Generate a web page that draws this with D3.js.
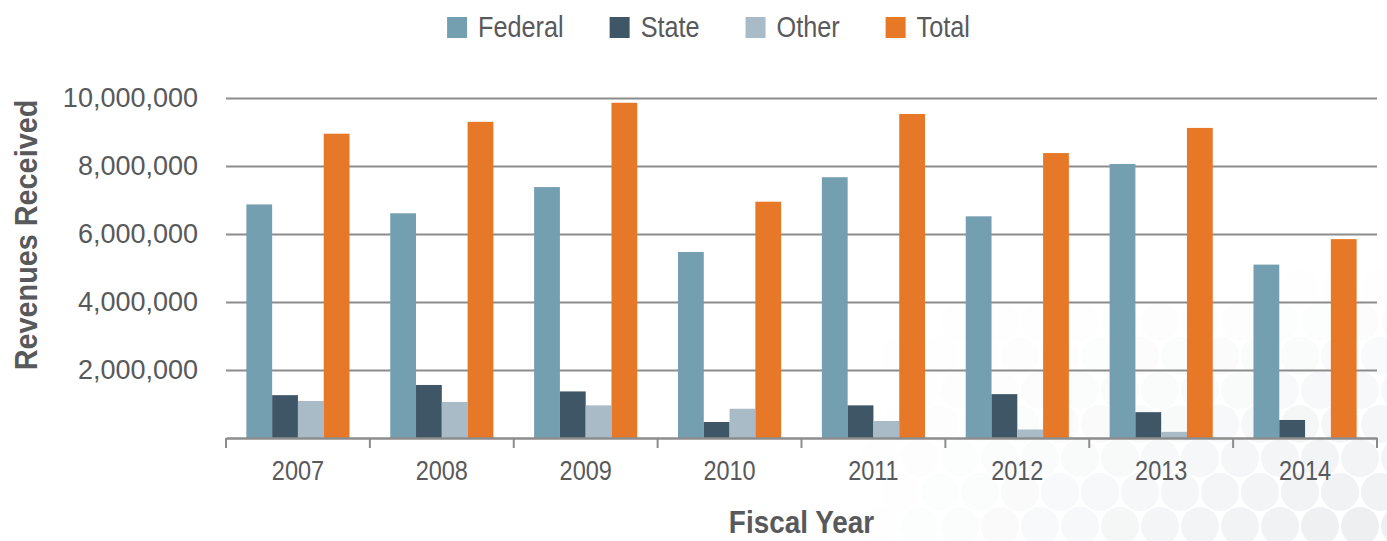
<!DOCTYPE html>
<html>
<head>
<meta charset="utf-8">
<script src="https://cdn.jsdelivr.net/npm/d3@7"></script>
<style>
  html, body { margin: 0; padding: 0; background: #ffffff; }
  svg { display: block; }
  text { font-family: "Liberation Sans", Arial, sans-serif; fill: #58595b; }
</style>
</head>
<body>
<svg id="chart" width="1387" height="541"></svg>
<script>
// ---- data ----
const years = ["2007", "2008", "2009", "2010", "2011", "2012", "2013", "2014"];
const seriesNames = ["Federal", "State", "Other", "Total"];
const federal = [6870000, 6610000, 7380000, 5470000, 7670000, 6520000, 8060000, 5100000];
const state   = [1260000, 1560000, 1370000, 470000, 960000, 1290000, 760000, 530000];
const other   = [1090000, 1060000, 960000, 860000, 500000, 250000, 180000, 0];
const total   = [8950000, 9300000, 9860000, 6950000, 9530000, 8380000, 9120000, 5850000];
const yTicks  = [2000000, 4000000, 6000000, 8000000, 10000000];
const seriesColors = ["#749fb0", "#3f5666", "#a8bbc6", "#e77828"];

const seriesValues = [federal, state, other, total];
const table = years.map((y, i) => {
  const row = { year: y };
  seriesNames.forEach((s, k) => row[s] = seriesValues[k][i]);
  return row;
});

// ---- layout ----
const plot = { left: 226, right: 1377, top: 98, bottom: 438 };
const svg = d3.select("#chart");

// faint decorative circle pattern (background, lower right)
const deco = svg.append("g");
const pts = [];
for (let r = 0; r < 10; r++) {
  for (let c = 0; c < 24; c++) {
    const cx = 500 + c * 40 + (r % 2) * 20;
    const cy = 560 - r * 34;
    const t = Math.max(0, Math.min(1, (cx - 850) / 500)) * Math.max(0, Math.min(1, (cy - 280) / 260));
    if (t > 0.02) pts.push({ cx, cy, o: t });
  }
}
deco.selectAll("circle").data(pts).join("circle")
  .attr("cx", d => d.cx).attr("cy", d => d.cy).attr("r", 19)
  .attr("fill", "#d9dee1").attr("opacity", d => 0.5 * d.o);

const x = d3.scaleBand().domain(years).range([plot.left, plot.right]).padding(0);
const xs = d3.scaleBand().domain(seriesNames).range([0, x.bandwidth()]).paddingInner(0).paddingOuter(0.79);
const y = d3.scaleLinear().domain([0, 10000000]).range([plot.bottom, plot.top]);
const color = d3.scaleOrdinal().domain(seriesNames).range(seriesColors);

// gridlines
const yAxis = d3.axisLeft(y).tickValues(yTicks).tickSize(-(plot.right - plot.left)).tickFormat("");
const gGrid = svg.append("g").attr("transform", `translate(${plot.left},0)`).call(yAxis);
gGrid.select(".domain").remove();
gGrid.selectAll(".tick line").attr("stroke", "#8c8c8c").attr("stroke-width", 2);

// y tick labels
svg.append("g").selectAll("text").data(yTicks).join("text")
  .attr("x", 198).attr("y", d => y(d)).attr("dy", "0.35em")
  .attr("text-anchor", "end").attr("font-size", 27)
  .text(d => d3.format(",")(d));

// bars
const groups = svg.append("g").selectAll("g").data(table).join("g")
  .attr("transform", d => `translate(${x(d.year)},0)`);
groups.selectAll("rect").data(d => seriesNames.map(s => ({ s, v: d[s] }))).join("rect")
  .attr("x", d => xs(d.s)).attr("width", xs.bandwidth())
  .attr("y", d => y(d.v)).attr("height", d => y(0) - y(d.v))
  .attr("fill", d => color(d.s));

// x axis
const xAxis = d3.axisBottom(x).tickSize(0).tickFormat(d => d);
const gx = svg.append("g").attr("transform", `translate(0,${plot.bottom})`).call(xAxis);
gx.select(".domain").attr("stroke", "#8c8c8c").attr("stroke-width", 2.5);
gx.selectAll(".tick text").attr("font-size", 27).attr("dy", 0).attr("y", 0)
  .attr("transform", "translate(0,42) scale(0.87,1)")
  .attr("fill", "#58595b");
gx.attr("font-family", null);
// boundary ticks between categories
const bounds = years.map(d => x(d)).concat([plot.right]);
svg.append("g").selectAll("line").data(bounds).join("line")
  .attr("x1", d => d).attr("x2", d => d)
  .attr("y1", plot.bottom).attr("y2", plot.bottom + 10)
  .attr("stroke", "#8c8c8c").attr("stroke-width", 2);

// axis titles
svg.append("text")
  .attr("transform", `translate(37,235) rotate(-90) scale(0.9,1)`)
  .attr("text-anchor", "middle").attr("font-size", 32).attr("font-weight", "bold")
  .text("Revenues Received");
svg.append("text")
  .attr("transform", `translate(${(plot.left + plot.right) / 2},533) scale(0.9,1)`)
  .attr("text-anchor", "middle").attr("font-size", 31).attr("font-weight", "bold")
  .text("Fiscal Year");

// legend
const legend = svg.append("g");
const sx = 0.87;
const items = legend.selectAll("g").data(seriesNames).join("g");
items.append("rect").attr("width", 20).attr("height", 21).attr("y", 17)
  .attr("fill", d => color(d));
items.append("text").attr("transform", `translate(31,37) scale(${sx},1)`)
  .attr("font-size", 29).text(d => d);
let cx = 0;
const gap = 46;
items.each(function () {
  const w = 31 + sx * this.querySelector("text").getComputedTextLength();
  d3.select(this).attr("transform", `translate(${cx},0)`);
  cx += w + gap;
});
const legendWidth = cx - gap;
legend.attr("transform", `translate(${708.5 - legendWidth / 2},0)`);
</script>
</body>
</html>
